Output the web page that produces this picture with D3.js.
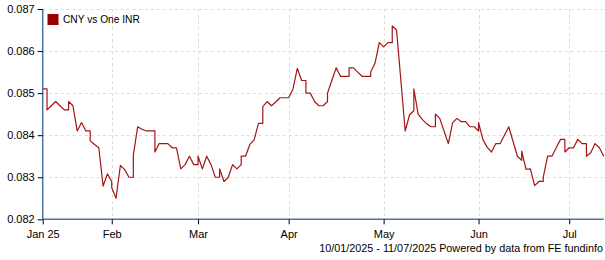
<!DOCTYPE html>
<html>
<head>
<meta charset="utf-8">
<script src="https://cdn.jsdelivr.net/npm/d3@7"></script>
<style>
  html, body { margin: 0; padding: 0; background: #fff; }
  svg { display: block; }
  text { font-family: Arial, "Liberation Sans", sans-serif; font-size: 11px; fill: #000; }
</style>
</head>
<body>
<svg id="chart" width="605" height="260"></svg>
<script>
// ---- data ----
const seriesName = "CNY vs One INR";
const startDate = "2025-01-10";   // first trading day (Friday)
const endDate = "2025-07-11";
// one value per weekday, Jan 10 2025 .. Jul 11 2025
const values = [
  0.0851, 0.0846, 0.0847, 0.0848, 0.0847, 0.0846, 0.0848, 0.0847, 0.0841, 0.0843,
  0.0841, 0.08387, 0.08378, 0.0837, 0.08279, 0.08308, 0.08275, 0.0825, 0.08328, 0.08318,
  0.0830, 0.08352, 0.0842, 0.08414, 0.0841, 0.0841, 0.0836, 0.0838, 0.0838, 0.0838,
  0.0837, 0.0837, 0.0832, 0.0833, 0.0835, 0.0833, 0.0835, 0.0832, 0.0835, 0.0833,
  0.0830, 0.0832, 0.0829, 0.0830, 0.0833, 0.0832, 0.0835, 0.0835, 0.08378, 0.08389,
  0.08428, 0.08468, 0.0848, 0.0847, 0.08479, 0.08489, 0.08489, 0.08489, 0.0851, 0.08559,
  0.0853, 0.0850, 0.0850, 0.0848, 0.0847, 0.0847, 0.0850, 0.0853, 0.0856, 0.0854,
  0.0854, 0.0856, 0.0856, 0.0855, 0.0854, 0.0854, 0.0855, 0.08571, 0.0862, 0.0861,
  0.0862, 0.0866, 0.0865, 0.0853, 0.0841, 0.08448, 0.0851, 0.0845, 0.08437, 0.08427,
  0.0842, 0.0845, 0.0844, 0.0841, 0.0838, 0.0843, 0.0844, 0.08432, 0.08432, 0.0842,
  0.0842, 0.0843, 0.0839, 0.08371, 0.0836, 0.0838, 0.0838, 0.0840, 0.0842, 0.08385,
  0.0835, 0.08362, 0.08319, 0.0832, 0.0828, 0.0829, 0.0830, 0.0835, 0.0835, 0.0837,
  0.0839, 0.0836, 0.0837, 0.0837, 0.0839, 0.0838, 0.0835, 0.08358, 0.0838, 0.0837,
  0.0835
];
// weekend quotes (shown at the following Monday, before the Monday quote)
const weekendValues = [
  0.0851, 0.0846, 0.0841, 0.0829, 0.0830, 0.0841, 0.0837, 0.0833, 0.0830, 0.0833,
  0.08428, 0.08489, 0.0853, 0.0848, 0.0854, 0.0854, 0.0862, 0.08458, 0.0842, 0.0844,
  0.0841, 0.0838, 0.0834, 0.0829, 0.0839, 0.0838
];
const yTicks = [0.082, 0.083, 0.084, 0.085, 0.086, 0.087];
const monthTickDates = ["2025-01-10", "2025-02-03", "2025-03-03", "2025-04-01", "2025-05-01", "2025-06-02", "2025-07-01"];
const monthTickLabels = ["Jan 25", "Feb", "Mar", "Apr", "May", "Jun", "Jul"];
const footerText = "10/01/2025 - 11/07/2025 Powered by data from FE fundinfo";

(function () {
// ---- build weekday calendar ----
const parse = d3.utcParse("%Y-%m-%d");
const days = d3.utcDays(parse(startDate), d3.utcDay.offset(parse(endDate), 1))
  .filter(d => d.getUTCDay() !== 0 && d.getUTCDay() !== 6);
const idxOf = new Map(days.map((d, i) => [+d, i]));

// ---- layout ----
const pl = 42.7, pr = 603.7, pt = 9, pb = 219.3;
const svg = d3.select("#chart");
const x = d3.scaleLinear().domain([0, days.length - 1]).range([pl, pr]);
const y = d3.scaleLinear().domain([0.082, 0.087]).range([pb, pt]);

const axisColor = "#4a72a8";
const gridColor = "#dcdcdc";
const lineColor = "#a31515";
const font = "Arial, 'Liberation Sans', sans-serif";

// grid
const tickIdx = monthTickDates.map(s => idxOf.get(+parse(s)));
svg.append("g").selectAll("line").data(yTicks.slice(1)).join("line")
  .attr("x1", pl).attr("x2", pr)
  .attr("y1", d => Math.round(y(d)) + 0.5).attr("y2", d => Math.round(y(d)) + 0.5)
  .attr("stroke", gridColor).attr("stroke-dasharray", "3,3");
svg.append("g").selectAll("line").data(tickIdx.slice(1)).join("line")
  .attr("x1", d => Math.round(x(d)) + 0.5).attr("x2", d => Math.round(x(d)) + 0.5)
  .attr("y1", pt).attr("y2", pb)
  .attr("stroke", gridColor).attr("stroke-dasharray", "3,3");

// line points (weekend quote drawn at Monday's position)
const pts = [];
let w = 0;
days.forEach((d, i) => {
  if (i > 0 && d.getUTCDay() === 1) { pts.push([i, weekendValues[w]]); w++; }
  pts.push([i, values[i]]);
});
svg.append("path")
  .datum(pts)
  .attr("fill", "none")
  .attr("stroke", lineColor)
  .attr("stroke-width", 1.2)
  .attr("stroke-linejoin", "round")
  .attr("d", d3.line().x(p => x(p[0])).y(p => y(p[1])));

// y axis
const yAxis = d3.axisLeft(y).tickValues(yTicks).tickFormat(d3.format(".3f")).tickSize(5).tickPadding(3);
const gy = svg.append("g").attr("transform", `translate(${pl},0)`).call(yAxis);
gy.select(".domain").attr("stroke", axisColor).attr("stroke-width", 1.5).attr("d", `M0,${pt}V${pb}`);
gy.selectAll(".tick line").attr("stroke", "#000");
gy.selectAll("text").style("font-size", "11px").style("font-family", font).attr("fill", "#000");

// x axis
const xAxis = d3.axisBottom(x).tickValues(tickIdx).tickFormat((d, i) => monthTickLabels[i]).tickSize(5).tickPadding(6);
const gx = svg.append("g").attr("transform", `translate(0,${pb})`).call(xAxis);
gx.select(".domain").attr("stroke", axisColor).attr("stroke-width", 1.5).attr("d", `M${pl},0H${pr}`);
gx.selectAll(".tick line").attr("stroke", "#000");
gx.selectAll("text").style("font-size", "11px").style("font-family", font).attr("fill", "#000");

// legend
svg.append("rect").attr("x", 47.5).attr("y", 14).attr("width", 11).attr("height", 11).attr("fill", "#990000");
svg.append("text").attr("x", 63).attr("y", 23).style("font-size", "10.2px").text(seriesName);

// footer
svg.append("text").attr("x", 603).attr("y", 252).attr("text-anchor", "end").style("font-size", "10.8px").text(footerText);
})();
</script>
</body>
</html>
